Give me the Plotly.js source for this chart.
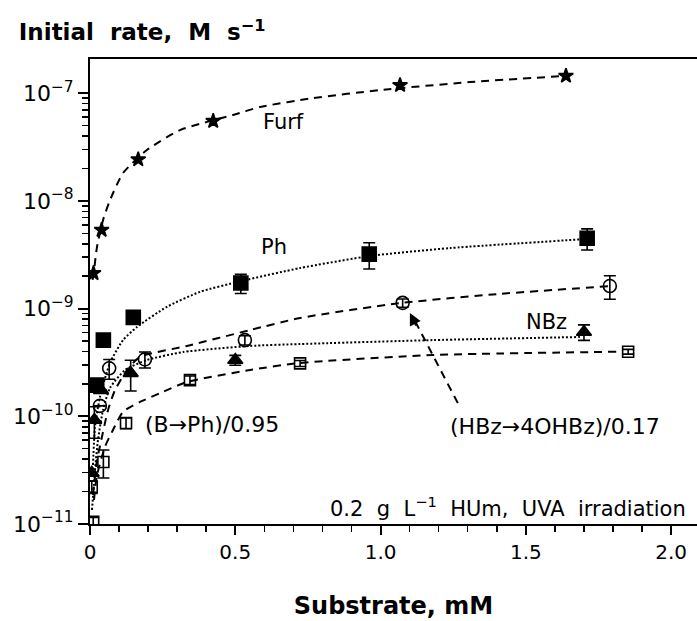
<!DOCTYPE html>
<html>
<head>
<meta charset="utf-8">
<script src="https://cdn.plot.ly/plotly-3.0.1.min.js"></script>
<style>html,body{margin:0;padding:0;background:#fff;}#chart{width:697px;height:621px;}</style>
</head>
<body>
<div id="chart"></div>
<script>
// ---- measured points ----
const furfX = [0.012, 0.040, 0.166, 0.424, 1.067, 1.638];
const furfY = [2.13e-9, 5.37e-9, 2.43e-8, 5.52e-8, 1.19e-7, 1.45e-7];

const phX = [0.023, 0.046, 0.149, 0.519, 0.961, 1.711];
const phY = [1.95e-10, 5.1e-10, 8.3e-10, 1.73e-9, 3.21e-9, 4.5e-9];
const phErr = [0, 0, 0, 0.35e-9, 0.88e-9, 1.0e-9];

const nbzX = [0.006, 0.015, 0.038, 0.140, 0.500, 1.700];
const nbzY = [2.98e-11, 9.25e-11, 1.75e-10, 2.52e-10, 3.33e-10, 6.07e-10];
const nbzErr = [0, 3e-11, 0, 0.8e-10, 0.35e-10, 1.0e-10];

const hbzX = [0.034, 0.066, 0.189, 0.533, 1.076, 1.789];
const hbzY = [1.25e-10, 2.79e-10, 3.38e-10, 5.1e-10, 1.13e-9, 1.62e-9];
const hbzErr = [0, 0.58e-10, 0.57e-10, 0.5e-10, 0.1e-9, 0.4e-9];

const bphX = [0.011, 0.006, 0.046, 0.124, 0.344, 0.723, 1.852];
const bphY = [1.05e-11, 2.22e-11, 3.77e-11, 8.67e-11, 2.17e-10, 3.1e-10, 3.98e-10];
const bphErr = [0.1e-11, 0.3e-11, 1.1e-11, 0.1e-10, 0.2e-10, 0.2e-10, 0.2e-10];

// ---- fitted curves ----
const furfFitX = [0.009, 0.014, 0.024, 0.045, 0.069, 0.114, 0.196, 0.310, 0.492, 0.585, 0.767, 0.998, 1.308, 1.638];
const furfFitY = [1.85e-9, 2.28e-9, 3.73e-9, 6.65e-9, 1.02e-8, 1.82e-8, 2.97e-8, 4.55e-8, 6.28e-8, 7.45e-8, 9.0e-8, 1.07e-7, 1.27e-7, 1.45e-7];

const phFitX = [0.0103, 0.0172, 0.0344, 0.0688, 0.1136, 0.1617, 0.265, 0.3785, 0.5196, 0.7226, 0.9635, 1.2388, 1.710];
const phFitY = [3.53e-11, 7.96e-11, 1.51e-10, 3.13e-10, 5.1e-10, 6.75e-10, 1.04e-9, 1.43e-9, 1.80e-9, 2.38e-9, 3.08e-9, 3.65e-9, 4.43e-9];

const nbzFitX = [0.0069, 0.0172, 0.0275, 0.0447, 0.0688, 0.1204, 0.196, 0.320, 0.5506, 0.7226, 1.180, 1.686];
const nbzFitY = [1.35e-11, 3.17e-11, 6.03e-11, 1.14e-10, 1.83e-10, 2.69e-10, 3.33e-10, 3.95e-10, 4.5e-10, 4.69e-10, 5.1e-10, 5.45e-10];

const hbzFitX = [0.0103, 0.0241, 0.0344, 0.0619, 0.086, 0.1273, 0.172, 0.3338, 0.5506, 0.7226, 1.0736, 1.411, 1.789];
const hbzFitY = [1.86e-11, 3.93e-11, 5.3e-11, 1.14e-10, 1.75e-10, 2.69e-10, 3.56e-10, 4.5e-10, 6.32e-10, 8.18e-10, 1.13e-9, 1.37e-9, 1.62e-9];

const bphFitX = [0.0138, 0.0231, 0.0516, 0.0791, 0.1136, 0.172, 0.2409, 0.3338, 0.5506, 0.7226, 1.180, 1.824];
const bphFitY = [1.67e-11, 2.75e-11, 5.22e-11, 7.46e-11, 1.10e-10, 1.36e-10, 1.64e-10, 2.08e-10, 2.69e-10, 3.13e-10, 3.71e-10, 3.98e-10];

const xTickVals = [0, 0.5, 1.0, 1.5, 2.0];
const xTickText = ['0', '0.5', '1.0', '1.5', '2.0'];
const yTickVals = [1e-11, 1e-10, 1e-9, 1e-8, 1e-7];
const yTickText = ['10<sup>−11</sup>', '10<sup>−10</sup>', '10<sup>−9</sup>', '10<sup>−8</sup>', '10<sup>−7</sup>'];
const yMinorVals = [];
for (let e = -11; e <= -8; e++) for (let m = 2; m <= 9; m++) yMinorVals.push(m * Math.pow(10, e));

const DASH = '8px,6px';
const DOT = '2px,2px';

function fit(x, y, dash) {
  return {x: x, y: y, type: 'scatter', mode: 'lines', line: {color: '#000', width: 2, dash: dash, shape: 'spline', smoothing: 0.6}, hoverinfo: 'skip', showlegend: false};
}
function pts(x, y, err, symbol, size) {
  const t = {x: x, y: y, type: 'scatter', mode: 'markers', showlegend: false,
    marker: {symbol: symbol, size: size, color: '#000', line: {color: '#000', width: 1.6}}};
  if (err) t.error_y = {type: 'data', symmetric: true, array: err, color: '#000', thickness: 1.6, width: 6};
  return t;
}

const data = [
  fit(furfFitX, furfFitY, DASH),
  fit(phFitX, phFitY, DOT),
  fit(nbzFitX, nbzFitY, DOT),
  fit(hbzFitX, hbzFitY, DASH),
  fit(bphFitX, bphFitY, DASH),
  pts(furfX, furfY, null, 'star', 11),
  pts(phX, phY, phErr, 'square', 14),
  pts(nbzX, nbzY, nbzErr, 'triangle-up', 13),
  pts(hbzX, hbzY, hbzErr, 'circle-open', 13),
  pts(bphX, bphY, bphErr, 'square-open', 11)
];

const F = 'DejaVu Sans, Liberation Sans, Arial, sans-serif';
function lbl(px, py, text, size, anchor) {
  return {xref: 'paper', yref: 'paper', x: (px - 90) / 607, y: (524 - py) / 465, text: text,
    showarrow: false, xanchor: anchor || 'center', yanchor: 'middle', font: {size: size}};
}
const layout = {
  width: 697, height: 621,
  margin: {l: 90, r: 0, t: 59, b: 97},
  paper_bgcolor: '#fff', plot_bgcolor: '#fff',
  font: {family: F, size: 20, color: '#000'},
  title: {text: '<b>Initial\u00a0 rate,\u00a0 M\u00a0 s<sup>−1</sup></b>', font: {family: F, size: 23, color: '#000'},
    xref: 'container', yref: 'container', x: 0.027, xanchor: 'left', y: 0.948, yanchor: 'middle'},
  xaxis: {
    range: [0, 2.089], showgrid: false, zeroline: false,
    showline: true, linecolor: '#000', linewidth: 2, mirror: true,
    ticks: 'outside', ticklen: 9, tickwidth: 2, tickcolor: '#000',
    tickvals: xTickVals, ticktext: xTickText,
    tickfont: {family: F, size: 20},
    minor: {dtick: 0.1, ticks: 'outside', ticklen: 6, tickwidth: 1.5, tickcolor: '#000'},
    title: {text: '<b>Substrate, mM</b>', font: {family: F, size: 24}, standoff: 34}
  },
  yaxis: {
    type: 'log', range: [-11, -6.682], showgrid: false, zeroline: false,
    showline: true, linecolor: '#000', linewidth: 2,
    ticks: 'outside', ticklen: 10, tickwidth: 2, tickcolor: '#000',
    tickvals: yTickVals, ticktext: yTickText,
    tickfont: {family: F, size: 22},
    minor: {tickvals: yMinorVals, ticks: 'outside', ticklen: 6, tickwidth: 1.5, tickcolor: '#000'}
  },
  shapes: [
    {type: 'line', xref: 'paper', yref: 'paper', x0: 0.606, y0: 0.260, x1: 0.534, y1: 0.44,
     line: {color: '#000', width: 2, dash: DASH}}
  ],
  annotations: [
    {xref: 'paper', yref: 'paper', x: 0.527, y: 0.4538, text: '', showarrow: true,
     arrowhead: 2, arrowsize: 1.2, arrowwidth: 2, arrowcolor: '#000', ax: 7, ay: 14},
    lbl(283, 122, 'Furf', 21),
    lbl(274, 247, 'Ph', 21),
    lbl(546, 322, 'NBz', 21),
    lbl(143, 424, '(B→Ph)/0.95', 22, 'left'),
    lbl(448, 426, '(HBz→4OHBz)/0.17', 22, 'left'),
    lbl(688, 507, '0.2\u00a0 g\u00a0 L<sup>−1</sup>\u00a0 HUm,\u00a0 UVA\u00a0 irradiation', 21, 'right')
  ]
};

Plotly.newPlot('chart', data, layout, {displayModeBar: false, staticPlot: true});
</script>
</body>
</html>
